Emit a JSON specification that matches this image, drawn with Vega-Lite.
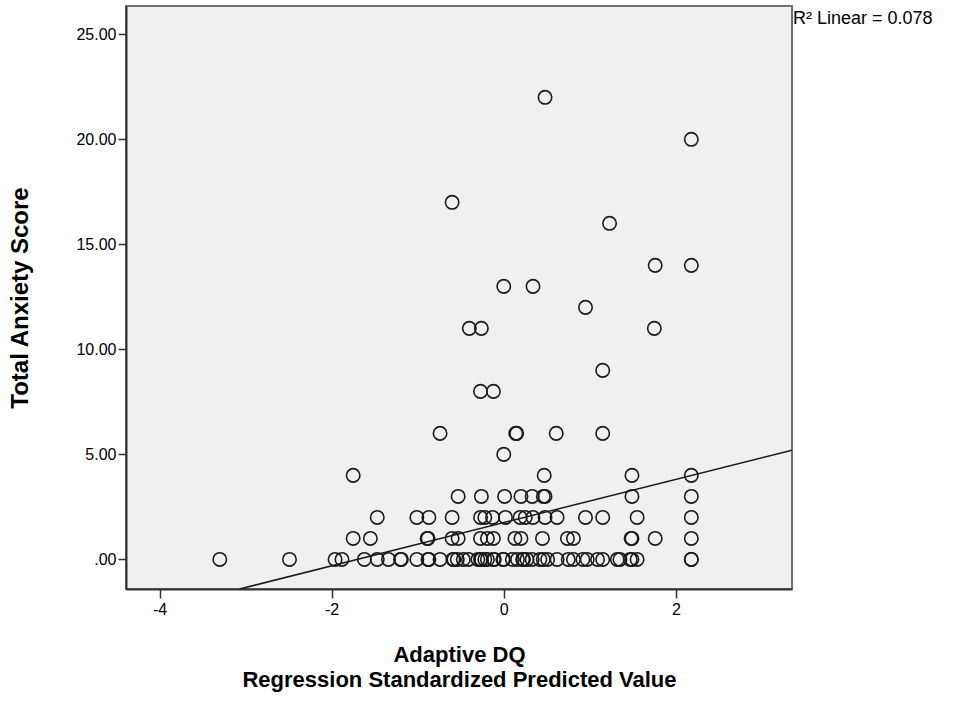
{
  "$schema": "https://vega.github.io/schema/vega-lite/v6.json",
  "width": 666,
  "height": 583,
  "autosize": "none",
  "padding": {"left": 126, "top": 6, "right": 175, "bottom": 113},
  "background": "#ffffff",
  "config": {
    "view": {"fill": "#f0f0f0", "stroke": "#707070", "strokeWidth": 2},
    "font": "Liberation Sans",
    "axis": {
      "grid": false,
      "domainColor": "#333333",
      "domainWidth": 2,
      "tickColor": "#333333",
      "tickWidth": 1.5,
      "tickSize": 8,
      "labelFont": "Liberation Sans",
      "labelFontSize": 16,
      "labelColor": "#000000",
      "titleFont": "Liberation Sans",
      "titleFontWeight": "bold",
      "titleColor": "#000000"
    }
  },
  "datasets": {
    "pts": [
      {"x": 0.48, "y": 22},
      {"x": 2.18, "y": 20},
      {"x": -0.60, "y": 17},
      {"x": 1.23, "y": 16},
      {"x": 1.76, "y": 14}, {"x": 2.18, "y": 14},
      {"x": 0.0, "y": 13}, {"x": 0.34, "y": 13},
      {"x": 0.95, "y": 12},
      {"x": -0.40, "y": 11}, {"x": -0.26, "y": 11}, {"x": 1.75, "y": 11},
      {"x": 1.15, "y": 9},
      {"x": -0.27, "y": 8}, {"x": -0.12, "y": 8},
      {"x": -0.74, "y": 6}, {"x": 0.14, "y": 6}, {"x": 0.15, "y": 6}, {"x": 0.61, "y": 6}, {"x": 1.15, "y": 6},
      {"x": 0.0, "y": 5},
      {"x": -1.75, "y": 4}, {"x": 0.47, "y": 4}, {"x": 1.49, "y": 4}, {"x": 2.18, "y": 4},
      {"x": -0.53, "y": 3}, {"x": -0.26, "y": 3}, {"x": 0.01, "y": 3}, {"x": 0.20, "y": 3}, {"x": 0.33, "y": 3}, {"x": 0.46, "y": 3}, {"x": 0.48, "y": 3}, {"x": 1.49, "y": 3}, {"x": 2.18, "y": 3},
      {"x": -1.47, "y": 2}, {"x": -1.01, "y": 2}, {"x": -0.87, "y": 2}, {"x": -0.60, "y": 2}, {"x": -0.27, "y": 2}, {"x": -0.22, "y": 2}, {"x": -0.13, "y": 2}, {"x": 0.02, "y": 2}, {"x": 0.19, "y": 2}, {"x": 0.25, "y": 2}, {"x": 0.34, "y": 2}, {"x": 0.48, "y": 2}, {"x": 0.62, "y": 2}, {"x": 0.95, "y": 2}, {"x": 1.15, "y": 2}, {"x": 1.55, "y": 2}, {"x": 2.18, "y": 2},
      {"x": -1.75, "y": 1}, {"x": -1.55, "y": 1}, {"x": -0.89, "y": 1}, {"x": -0.88, "y": 1}, {"x": -0.60, "y": 1}, {"x": -0.53, "y": 1}, {"x": -0.27, "y": 1}, {"x": -0.19, "y": 1}, {"x": -0.12, "y": 1}, {"x": 0.13, "y": 1}, {"x": 0.20, "y": 1}, {"x": 0.45, "y": 1}, {"x": 0.74, "y": 1}, {"x": 0.81, "y": 1}, {"x": 1.48, "y": 1}, {"x": 1.49, "y": 1}, {"x": 1.76, "y": 1}, {"x": 2.18, "y": 1},
      {"x": -3.30, "y": 0}, {"x": -2.49, "y": 0}, {"x": -1.96, "y": 0}, {"x": -1.88, "y": 0}, {"x": -1.62, "y": 0}, {"x": -1.47, "y": 0}, {"x": -1.34, "y": 0}, {"x": -1.20, "y": 0}, {"x": -1.19, "y": 0}, {"x": -1.01, "y": 0}, {"x": -0.88, "y": 0}, {"x": -0.87, "y": 0}, {"x": -0.74, "y": 0}, {"x": -0.59, "y": 0}, {"x": -0.58, "y": 0}, {"x": -0.54, "y": 0}, {"x": -0.47, "y": 0}, {"x": -0.41, "y": 0}, {"x": -0.30, "y": 0}, {"x": -0.27, "y": 0}, {"x": -0.26, "y": 0}, {"x": -0.22, "y": 0}, {"x": -0.19, "y": 0}, {"x": -0.12, "y": 0}, {"x": -0.11, "y": 0}, {"x": -0.01, "y": 0}, {"x": 0.0, "y": 0}, {"x": 0.10, "y": 0}, {"x": 0.16, "y": 0}, {"x": 0.22, "y": 0}, {"x": 0.23, "y": 0}, {"x": 0.27, "y": 0}, {"x": 0.33, "y": 0}, {"x": 0.42, "y": 0}, {"x": 0.46, "y": 0}, {"x": 0.51, "y": 0}, {"x": 0.62, "y": 0}, {"x": 0.75, "y": 0}, {"x": 0.81, "y": 0}, {"x": 0.92, "y": 0}, {"x": 0.97, "y": 0}, {"x": 1.09, "y": 0}, {"x": 1.15, "y": 0}, {"x": 1.32, "y": 0}, {"x": 1.35, "y": 0}, {"x": 1.47, "y": 0}, {"x": 1.49, "y": 0}, {"x": 1.55, "y": 0}, {"x": 2.18, "y": 0}, {"x": 2.18, "y": 0}
    ],
    "fit": [
      {"x": -3.07, "y": -1.41},
      {"x": 3.35, "y": 5.2}
    ],
    "note": [
      {"label": "R² Linear = 0.078", "x": 3.35, "y": 25.73}
    ]
  },
  "encoding": {
    "x": {
      "field": "x",
      "type": "quantitative",
      "scale": {"domain": [-4.39, 3.35], "nice": false, "zero": false},
      "axis": {
        "values": [-4, -2, 0, 2],
        "labelExpr": "(datum.value < 0 ? '-' : '') + abs(datum.value)",
        "tickSize": 9,
        "labelPadding": 3,
        "title": ["Adaptive DQ", "Regression Standardized Predicted Value"],
        "titleFontSize": 22,
        "titleLineHeight": 25,
        "titlePadding": 27
      }
    },
    "y": {
      "field": "y",
      "type": "quantitative",
      "scale": {"domain": [-1.41, 26.35], "nice": false, "zero": false},
      "axis": {
        "values": [0, 5, 10, 15, 20, 25],
        "labelExpr": "datum.value == 0 ? '.00' : format(datum.value, '.2f')",
        "tickSize": 8,
        "labelPadding": 2,
        "title": "Total Anxiety Score",
        "titleFontSize": 24,
        "titlePadding": 43
      }
    }
  },
  "layer": [
    {
      "data": {"name": "pts"},
      "mark": {"type": "point", "shape": "circle", "filled": false, "size": 180, "stroke": "#1a1a1a", "strokeWidth": 1.6, "opacity": 1}
    },
    {
      "data": {"name": "fit"},
      "mark": {"type": "line", "color": "#1a1a1a", "strokeWidth": 1.5, "clip": true},
      "encoding": {}
    },
    {
      "data": {"name": "note"},
      "mark": {"type": "text", "align": "left", "baseline": "middle", "fontSize": 18, "font": "Liberation Sans", "color": "#000000", "dx": 1, "clip": false},
      "encoding": {"text": {"field": "label"}}
    }
  ]
}
